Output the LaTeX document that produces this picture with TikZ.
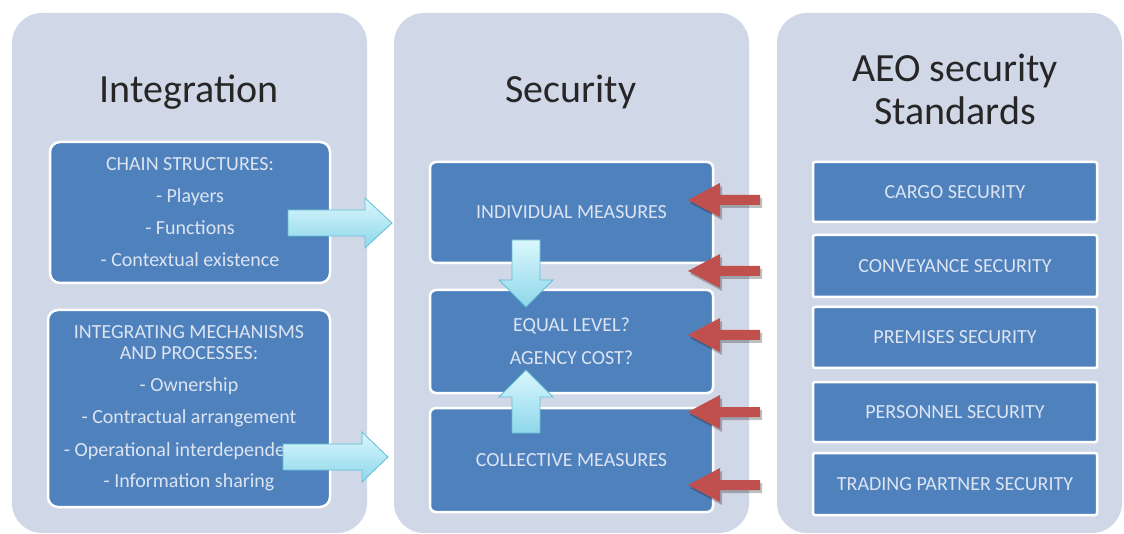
\documentclass[tikz,border=0pt]{standalone}
\usepackage{fontspec}
\setmainfont{Carlito}
\definecolor{panelbg}{HTML}{D0D8E8}
\definecolor{boxblue}{HTML}{4F81BD}
\definecolor{boxtext}{HTML}{DCE4F2}
\definecolor{arrowred}{HTML}{C0504D}
\definecolor{cyanlight}{HTML}{DAF7FD}
\definecolor{cyandark}{HTML}{8ED7EA}
\definecolor{cyanedge}{HTML}{62BED3}
\begin{document}
\begin{tikzpicture}[x=1pt,y=-1pt,
  panel/.style={fill=panelbg, rounded corners=30pt, inner sep=0pt},
  box/.style={fill=boxblue, draw=white, line width=2.5pt, text=boxtext, align=center,
    inner sep=0pt, font=\fontsize{20}{21}\selectfont},
  title/.style={text=black!85, font=\fontsize{40}{44}\selectfont, anchor=base, inner sep=0pt},
  cyanarrow/.style={top color=cyanlight, bottom color=cyandark, draw=cyanedge, line width=0.8pt},
  redarrow/.style={fill=arrowred, draw=none},
  redshadow/.style={fill=black, opacity=0.25, draw=none},
]
\fill[white] (0,0) rectangle (1124,534);
\useasboundingbox (0,0) rectangle (1124,534);

% panels
\node[panel, minimum width=355pt, minimum height=520pt] (pint) at (189.5,273) {};
\node[panel, minimum width=355pt, minimum height=520pt] (psec) at (571.5,273) {};
\node[panel, minimum width=345pt, minimum height=520pt] (paeo) at (949.5,273) {};

% titles
\node[title] (tint) at (189,103) {Integration};
\node[title] (tsec) at (571,103) {Security};
\node[title] (taeo1) at (955,82) {AEO security};
\node[title] (taeo2) at (955,125) {Standards};

% integration boxes
\node[box, rounded corners=10pt, minimum width=280pt, minimum height=141pt] (chain) at (190,212.5)
  {CHAIN STRUCTURES:\\[11pt]- Players\\[11pt]- Functions\\[11pt]- Contextual existence};
\node[box, rounded corners=10pt, minimum width=282pt, minimum height=197pt] (mech) at (189,408.5)
  {INTEGRATING MECHANISMS\\AND PROCESSES:\\[11pt]- Ownership\\[11pt]- Contractual arrangement\\[12pt]- Operational interdependence\\[10pt]- Information sharing};

% security boxes
\node[box, rounded corners=6pt, minimum width=283pt, minimum height=101pt] (indiv) at (571.5,212.5) {INDIVIDUAL MEASURES};
\node[box, rounded corners=6pt, minimum width=283pt, minimum height=103pt] (equal) at (571.5,341.5) {EQUAL LEVEL?\\[12pt]AGENCY COST?};
\node[box, rounded corners=6pt, minimum width=283pt, minimum height=104pt] (coll) at (571.5,460) {COLLECTIVE MEASURES};

% AEO standard boxes
\node[box, rounded corners=2pt, minimum width=284pt, minimum height=60pt] (cargo) at (955,192) {CARGO SECURITY};
\node[box, rounded corners=2pt, minimum width=284pt, minimum height=62pt] (conv) at (955,266) {CONVEYANCE SECURITY};
\node[box, rounded corners=2pt, minimum width=284pt, minimum height=61pt] (prem) at (955,337.5) {PREMISES SECURITY};
\node[box, rounded corners=2pt, minimum width=284pt, minimum height=60pt] (pers) at (955,412) {PERSONNEL SECURITY};
\node[box, rounded corners=2pt, minimum width=284pt, minimum height=62pt] (trad) at (955,484) {TRADING PARTNER SECURITY};

% cyan block arrows
\draw[cyanarrow] (288,210) -- (365,210) -- (365,198) -- (392,223) -- (365,248) -- (365,236) -- (288,236) -- cycle;
\draw[cyanarrow] (283,444) -- (362,444) -- (362,432) -- (388,457) -- (362,482) -- (362,470) -- (283,470) -- cycle;
\draw[cyanarrow] (512,240) -- (540,240) -- (540,280) -- (553,280) -- (526,307) -- (499,280) -- (512,280) -- cycle;
\draw[cyanarrow] (512,433) -- (540,433) -- (540,397) -- (553,397) -- (526,370) -- (499,397) -- (512,397) -- cycle;

% red arrows
\foreach \c in {200,271,335,412,485}{
  \fill[redshadow] (690,\c+3) -- (722,\c-14) -- (722,\c-2) -- (762,\c-2) -- (762,\c+8) -- (722,\c+8) -- (722,\c+20) -- cycle;
  \fill[redarrow] (688,\c) -- (720,\c-17) -- (720,\c-5) -- (760,\c-5) -- (760,\c+5) -- (720,\c+5) -- (720,\c+17) -- cycle;
}
\end{tikzpicture}
\end{document}
